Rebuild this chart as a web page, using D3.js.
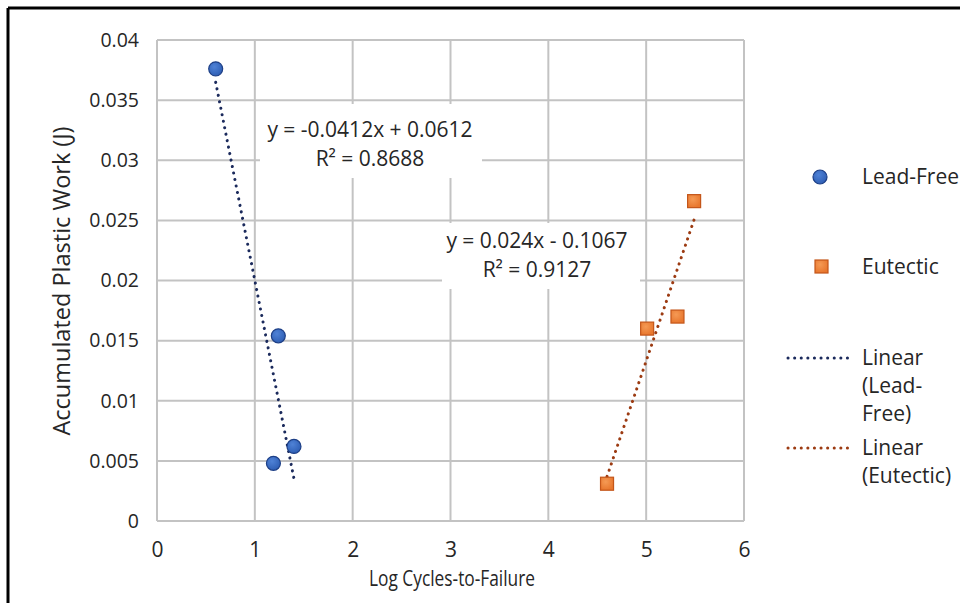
<!DOCTYPE html>
<html>
<head>
<meta charset="utf-8">
<script src="https://cdn.jsdelivr.net/npm/d3@7"></script>
<style>
body { margin: 0; background: #fff; }
text { font-family: "Open Sans", "Noto Sans", sans-serif; fill: #262626; }
</style>
</head>
<body>
<div id="chart"></div>
<script>
// data
var leadFreeX = [0.60, 1.24, 1.40, 1.19];
var leadFreeY = [0.0376, 0.0154, 0.0062, 0.0048];
var eutecticX = [5.49, 5.32, 5.01, 4.60];
var eutecticY = [0.0266, 0.0170, 0.0160, 0.0031];

// trendline coefficients [slope, intercept] as printed on the chart
var leadFreeFit = [-0.0412, 0.0612];
var eutecticFit = [0.024, -0.1067];
var leadFreeLabel = ['y = -0.0412x + 0.0612', 'R\u00b2 = 0.8688'];
var eutecticLabel = ['y = 0.024x - 0.1067', 'R\u00b2 = 0.9127'];

var xTicks = [0, 1, 2, 3, 4, 5, 6];
var yTicks = [0, 0.005, 0.01, 0.015, 0.02, 0.025, 0.03, 0.035, 0.04];
var legendNames = ['Lead-Free', 'Eutectic', 'Linear (Lead-Free)', 'Linear (Eutectic)'];

var width = 960;
var height = 603;
var plot = {left: 157, right: 744, top: 40, bottom: 521};

var blue = '#2f5fb5';
var blueEdge = '#1d3f86';
var orange = '#e8772e';
var orangeEdge = '#c4561a';
var navyLine = '#1b2a5c';
var brownLine = '#9c3b12';

function draw() {
	var svg = d3.select('#chart')
				.append('svg')
				.attr('width', width)
				.attr('height', height);

	var defs = svg.append('defs');
	var g1 = defs.append('radialGradient').attr('id', 'blueGrad')
				.attr('cx', '40%').attr('cy', '35%').attr('r', '65%');
	g1.append('stop').attr('offset', '0%').attr('stop-color', '#4f82d6');
	g1.append('stop').attr('offset', '100%').attr('stop-color', blue);
	var g2 = defs.append('radialGradient').attr('id', 'orangeGrad')
				.attr('cx', '40%').attr('cy', '35%').attr('r', '65%');
	g2.append('stop').attr('offset', '0%').attr('stop-color', '#f59a55');
	g2.append('stop').attr('offset', '100%').attr('stop-color', orange);

	var x_scale = d3.scaleLinear().domain([0, 6]).range([plot.left, plot.right]);
	var y_scale = d3.scaleLinear().domain([0, 0.04]).range([plot.bottom, plot.top]);

	//gridlines
	var grid = svg.append('g').attr('stroke', '#c3c3c3').attr('stroke-width', 2);
	grid.selectAll('.vg').data(xTicks).enter().append('line')
		.attr('x1', function(d){ return x_scale(d); })
		.attr('x2', function(d){ return x_scale(d); })
		.attr('y1', plot.top).attr('y2', plot.bottom);
	grid.selectAll('.hg').data(yTicks).enter().append('line')
		.attr('x1', plot.left).attr('x2', plot.right)
		.attr('y1', function(d){ return y_scale(d); })
		.attr('y2', function(d){ return y_scale(d); });

	//axes (labels only)
	var x_axis = d3.axisBottom(x_scale).tickValues(xTicks).tickSize(0).tickPadding(21)
					.tickFormat(d3.format('d'));
	var gx = svg.append('g')
		.attr('transform', 'translate(0,' + plot.bottom + ')')
		.call(x_axis);
	gx.select('.domain').remove();
	gx.selectAll('text').attr('font-size', 21).attr('fill', '#262626')
		.attr('font-family', '"Open Sans", sans-serif');

	var y_axis = d3.axisLeft(y_scale).tickValues(yTicks).tickSize(0).tickPadding(18)
					.tickFormat(function(d){ return d === 0 ? '0' : String(+d.toFixed(3)); });
	var gy = svg.append('g')
		.attr('transform', 'translate(' + plot.left + ',0)')
		.call(y_axis);
	gy.select('.domain').remove();
	gy.selectAll('text').attr('font-size', 19.5).attr('fill', '#262626')
		.attr('font-family', '"Open Sans", sans-serif');

	//axis titles
	svg.append('text')
		.attr('x', 369).attr('y', 586)
		.attr('font-size', 22)
		.attr('textLength', 166)
		.attr('lengthAdjust', 'spacingAndGlyphs')
		.text('Log Cycles-to-Failure');
	svg.append('text')
		.attr('transform', 'translate(70,' + 281 + ') rotate(-90)')
		.attr('text-anchor', 'middle')
		.attr('font-size', 23.5)
		.text('Accumulated Plastic Work (J)');

	//equation labels with white boxes
	function eqLabel(lines, cx, cy, bx, by, bw, bh) {
		svg.append('rect').attr('x', bx).attr('y', by).attr('width', bw).attr('height', bh)
			.attr('fill', '#fff');
		svg.append('text').attr('x', cx).attr('y', cy)
			.attr('text-anchor', 'middle').attr('font-size', 21).text(lines[0]);
		svg.append('text').attr('x', cx).attr('y', cy + 29)
			.attr('text-anchor', 'middle').attr('font-size', 21).text(lines[1]);
	}
	eqLabel(leadFreeLabel, 370, 137, 260, 104, 222, 74);
	eqLabel(eutecticLabel, 537, 248, 442, 223, 198, 66);

	//trendlines
	function trend(xs, fit, color) {
		var x0 = d3.min(xs), x1 = d3.max(xs);
		svg.append('line')
			.attr('x1', x_scale(x0)).attr('y1', y_scale(fit[0] * x0 + fit[1]))
			.attr('x2', x_scale(x1)).attr('y2', y_scale(fit[0] * x1 + fit[1]))
			.attr('stroke', color).attr('stroke-width', 3)
			.attr('stroke-linecap', 'round')
			.attr('stroke-dasharray', '0.1 6.5');
	}
	trend(leadFreeX, leadFreeFit, navyLine);
	trend(eutecticX, eutecticFit, brownLine);

	//points
	var lf = leadFreeX.map(function(d, i){ return [d, leadFreeY[i]]; });
	var eu = eutecticX.map(function(d, i){ return [d, eutecticY[i]]; });

	svg.append('g').selectAll('circle')
		.data(lf).enter().append('circle')
		.attr('cx', function(d){ return x_scale(d[0]); })
		.attr('cy', function(d){ return y_scale(d[1]); })
		.attr('r', 7)
		.attr('fill', 'url(#blueGrad)')
		.attr('stroke', blueEdge).attr('stroke-width', 1.2);

	svg.append('g').selectAll('rect')
		.data(eu).enter().append('rect')
		.attr('x', function(d){ return x_scale(d[0]) - 6.5; })
		.attr('y', function(d){ return y_scale(d[1]) - 6.5; })
		.attr('width', 13).attr('height', 13)
		.attr('fill', 'url(#orangeGrad)')
		.attr('stroke', orangeEdge).attr('stroke-width', 1.2);

	//legend
	var leg = svg.append('g');
	leg.append('circle').attr('cx', 820).attr('cy', 177).attr('r', 7)
		.attr('fill', 'url(#blueGrad)').attr('stroke', blueEdge).attr('stroke-width', 1.2);
	leg.append('rect').attr('x', 815).attr('y', 260).attr('width', 13).attr('height', 13)
		.attr('fill', 'url(#orangeGrad)').attr('stroke', orangeEdge).attr('stroke-width', 1.2);
	leg.append('line').attr('x1', 788).attr('x2', 850).attr('y1', 358).attr('y2', 358)
		.attr('stroke', navyLine).attr('stroke-width', 3).attr('stroke-linecap', 'round')
		.attr('stroke-dasharray', '0.1 6.5');
	leg.append('line').attr('x1', 788).attr('x2', 850).attr('y1', 448).attr('y2', 448)
		.attr('stroke', brownLine).attr('stroke-width', 3).attr('stroke-linecap', 'round')
		.attr('stroke-dasharray', '0.1 6.5');

	var legLines = [
		[legendNames[0], 177],
		[legendNames[1], 267],
		['Linear', 358], ['(Lead-', 386], ['Free)', 414],
		['Linear', 448], ['(Eutectic)', 476]
	];
	leg.selectAll('text').data(legLines).enter().append('text')
		.attr('x', 862)
		.attr('y', function(d){ return d[1]; })
		.attr('dy', '0.35em')
		.attr('font-size', 21)
		.text(function(d){ return d[0]; });

	//outer frame (top and left edges only are in view)
	svg.append('line').attr('x1', 8).attr('x2', width).attr('y1', 8).attr('y2', 8)
		.attr('stroke', '#000').attr('stroke-width', 3);
	svg.append('line').attr('x1', 8).attr('x2', 8).attr('y1', 8).attr('y2', height)
		.attr('stroke', '#000').attr('stroke-width', 3);
}

draw();
</script>
</body>
</html>
